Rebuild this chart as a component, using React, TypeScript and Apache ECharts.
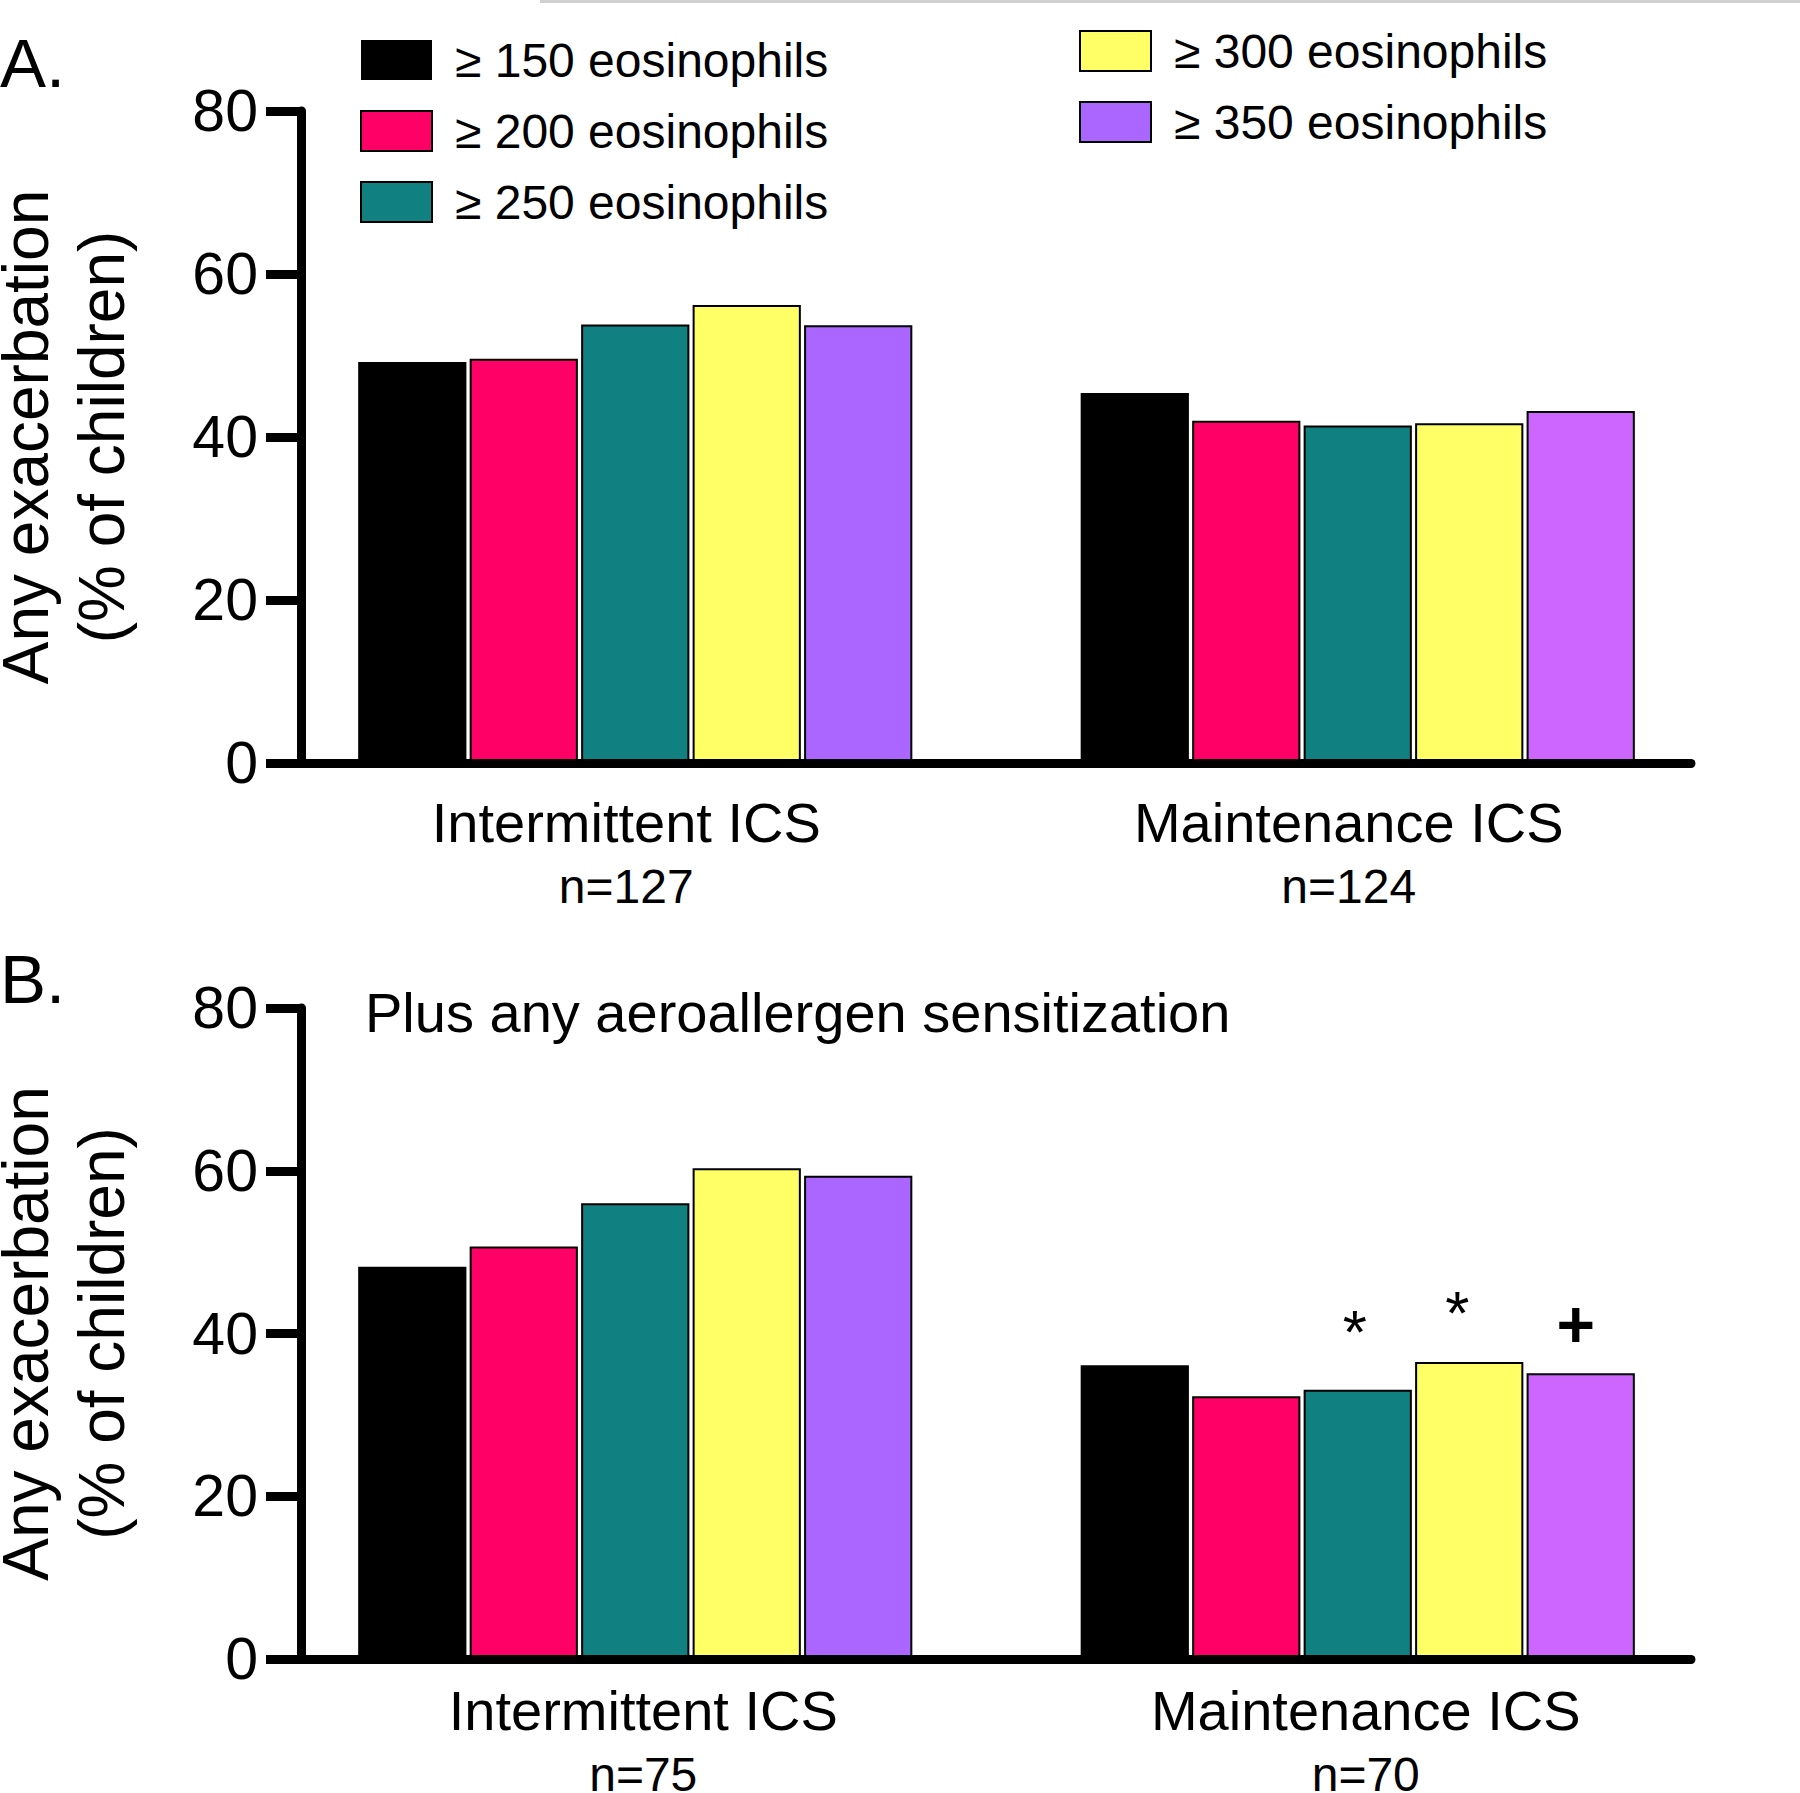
import React, { useEffect, useRef } from 'react';
import * as echarts from 'echarts';

const FONT = '"Liberation Sans", Arial, Helvetica, sans-serif';

// ---- data ----
const groups = ['Intermittent ICS', 'Maintenance ICS'];
const nPanelA = ['n=127', 'n=124'];
const nPanelB = ['n=75', 'n=70'];
const seriesNames = [
  '≥ 150 eosinophils',
  '≥ 200 eosinophils',
  '≥ 250 eosinophils',
  '≥ 300 eosinophils',
  '≥ 350 eosinophils',
];
const yTickValues = [0, 20, 40, 60, 80];

// Panel A: Any exacerbation (% of children)
const a150 = [49.2, 45.4];
const a200 = [49.6, 42.0];
const a250 = [53.8, 41.4];
const a300 = [56.2, 41.7];
const a350 = [53.7, 43.2];

// Panel B: plus any aeroallergen sensitization
const b150 = [48.2, 36.1];
const b200 = [50.7, 32.3];
const b250 = [56.0, 33.1];
const b300 = [60.3, 36.5];
const b350 = [59.4, 35.1];

// significance marks for panel B, maintenance group
const marksB = ['', '', '*', '*', '+'];

// ---- styles ----
const colors = ['#000000', '#FF0066', '#108080', '#FFFF66', '#AA66FF'];
const colorsMaint = ['#000000', '#FF0066', '#108080', '#FFFF66', '#CC66FF'];
const markOffsets: Record<number, number[]> = { 2: [-3, -22], 3: [-12, -13], 4: [-5, -11] };

export default function App() {
  const ref = useRef<HTMLDivElement>(null);

  useEffect(() => {
    document.body.style.margin = '0';
    const chart = echarts.init(ref.current!, null, { renderer: 'svg' });

    const panels = [
      { top: 111, height: 652, values: [a150, a200, a250, a300, a350], n: nPanelA, marks: null as string[] | null, pad: [0, 18, 0, 0], margin: 26 },
      { top: 1008, height: 651, values: [b150, b200, b250, b300, b350], n: nPanelB, marks: marksB, pad: [0, 0, 0, 16], margin: 18 },
    ];

    const grids: any[] = [];
    const xAxes: any[] = [];
    const yAxes: any[] = [];
    const series: any[] = [];

    panels.forEach((p, pi) => {
      const gAxes = pi * 2;
      const gBars = pi * 2 + 1;
      grids.push({ left: 301, right: 109, top: p.top, height: p.height, containLabel: false, outerBoundsMode: 'none' });
      grids.push({ left: 274, right: 81, top: p.top, height: p.height, containLabel: false, outerBoundsMode: 'none' });

      xAxes.push({
        gridIndex: gAxes,
        type: 'category',
        data: groups,
        z: 5,
        axisLine: { show: true, lineStyle: { color: '#000', width: 9 } },
        axisTick: { show: false },
        axisLabel: { show: false },
        splitLine: { show: false },
      });
      xAxes.push({
        gridIndex: gBars,
        type: 'category',
        data: groups,
        axisLine: { show: false },
        axisTick: { show: false },
        splitLine: { show: false },
        axisLabel: {
          show: true,
          margin: p.margin,
          padding: p.pad,
          formatter: (v: string, i: number) => `{a|${v}}\n{b|${p.n[i]}}`,
          rich: {
            a: { fontSize: 56, lineHeight: 66, fontFamily: FONT, color: '#000' },
            b: { fontSize: 48, lineHeight: 62, fontFamily: FONT, color: '#000' },
          },
        },
      });

      yAxes.push({
        gridIndex: gAxes,
        type: 'value',
        min: yTickValues[0],
        max: yTickValues[yTickValues.length - 1],
        interval: yTickValues[1] - yTickValues[0],
        z: 5,
        axisLine: { show: true, lineStyle: { color: '#000', width: 9 } },
        axisTick: { show: true, length: 35, lineStyle: { color: '#000', width: 9 } },
        axisLabel: { fontSize: 59, margin: 43, color: '#000', fontFamily: FONT },
        splitLine: { show: false },
        name: 'Any exacerbation\n(% of children)',
        nameLocation: 'middle',
        nameRotate: 90,
        nameGap: 161,
        nameTextStyle: { fontSize: 64, lineHeight: 76, color: '#000', fontFamily: FONT },
      });
      yAxes.push({
        gridIndex: gBars,
        type: 'value',
        min: yTickValues[0],
        max: yTickValues[yTickValues.length - 1],
        show: false,
      });

      p.values.forEach((vals, k) => {
        series.push({
          type: 'bar',
          name: seriesNames[k],
          xAxisIndex: gBars,
          yAxisIndex: gBars,
          barGap: '3%',
          barCategoryGap: '23.3%',
          itemStyle: { color: colors[k], borderColor: '#000', borderWidth: k === 0 ? 0 : 2 },
          data: vals.map((v, i) => {
            const item: any = {
              value: v,
              itemStyle: { color: i === 1 ? colorsMaint[k] : colors[k] },
            };
            if (p.marks && i === 1 && p.marks[k]) {
              item.label = {
                show: true,
                position: 'top',
                distance: 5,
                formatter: p.marks[k],
                fontSize: p.marks[k] === '+' ? 66 : 62,
                fontWeight: p.marks[k] === '+' ? 'bold' : 'normal',
                fontFamily: FONT,
                color: '#000',
                offset: markOffsets[k] || [0, 0],
              };
            }
            return item;
          }),
        });
      });
    });

    const legendText = { fontSize: 48, color: '#000', fontFamily: FONT, padding: [0, 0, 0, 18] };

    chart.setOption({
      animation: false,
      backgroundColor: '#ffffff',
      grid: grids,
      xAxis: xAxes,
      yAxis: yAxes,
      series,
      legend: [
        {
          data: seriesNames.slice(0, 3),
          left: 360,
          top: 36,
          orient: 'vertical',
          icon: 'rect',
          itemWidth: 71,
          itemHeight: 40,
          itemGap: 23,
          padding: 0,
          selectedMode: false,
          textStyle: legendText,
        },
        {
          data: seriesNames.slice(3),
          left: 1079,
          top: 27,
          orient: 'vertical',
          icon: 'rect',
          itemWidth: 71,
          itemHeight: 40,
          itemGap: 23,
          padding: 0,
          selectedMode: false,
          textStyle: legendText,
        },
      ],
      graphic: [
        { type: 'line', shape: { x1: 540, y1: 1.5, x2: 1800, y2: 1.5 }, style: { stroke: '#d0d0d0', lineWidth: 3 } },
        { type: 'text', x: 0, y: 63, style: { text: 'A.', font: `69px ${FONT}`, fill: '#000', verticalAlign: 'middle' } },
        { type: 'text', x: 0, y: 979, style: { text: 'B.', font: `69px ${FONT}`, fill: '#000', verticalAlign: 'middle' } },
        { type: 'text', x: 365, y: 1012, style: { text: 'Plus any aeroallergen sensitization', font: `56px ${FONT}`, fill: '#000', verticalAlign: 'middle' } },
      ],
    });

    return () => chart.dispose();
  }, []);

  return <div ref={ref} style={{ width: 1800, height: 1793 }} />;
}
